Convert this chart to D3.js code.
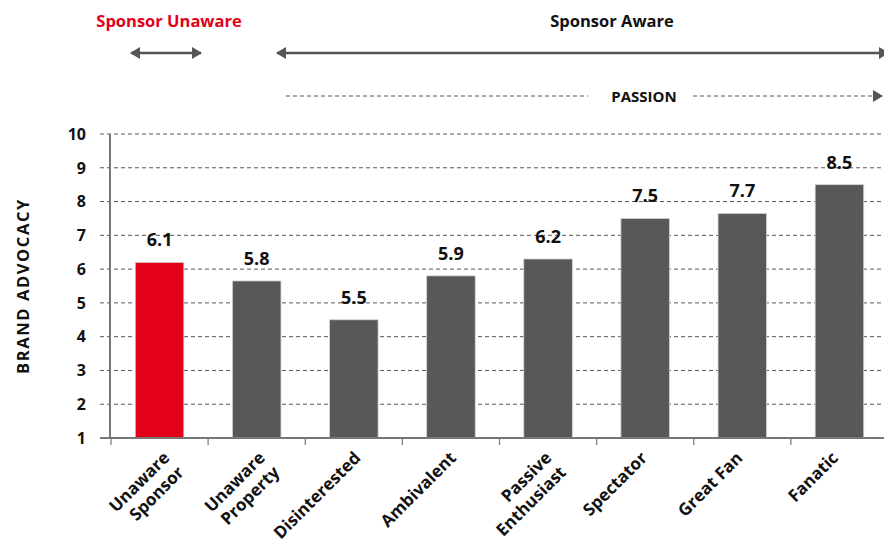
<!DOCTYPE html>
<html>
<head>
<meta charset="utf-8">
<script src="https://cdn.jsdelivr.net/npm/d3@7"></script>
<style>
  body { margin: 0; background: #fff; }
  svg { display: block; font-family: "Open Sans", "DejaVu Sans", sans-serif; font-weight: bold; }
</style>
</head>
<body>
<div id="chart"></div>
<script>
// categories, bar heights (as drawn) and the printed value labels
var categories = [["Unaware", "Sponsor"], ["Unaware", "Property"], ["Disinterested"], ["Ambivalent"],
                  ["Passive", "Enthusiast"], ["Spectator"], ["Great Fan"], ["Fanatic"]];
var barValues = [6.2, 5.65, 4.5, 5.8, 6.3, 7.5, 7.65, 8.5];
var valueLabels = ["6.1", "5.8", "5.5", "5.9", "6.2", "7.5", "7.7", "8.5"];
var yTicks = [1, 2, 3, 4, 5, 6, 7, 8, 9, 10];

var width = 884, height = 544;
var red = "#e2001a", grey = "#58585a", axisGrey = "#777";

var svg = d3.select("#chart").append("svg")
    .attr("width", width)
    .attr("height", height);

var x = d3.scaleBand()
    .domain(d3.range(categories.length))
    .range([111, 888])
    .paddingInner(0.5)
    .paddingOuter(0.25);

var y = d3.scaleLinear()
    .domain([1, 10])
    .range([438, 134]);

// gridlines
svg.append("g").selectAll("line")
    .data(yTicks.slice(1))
    .enter().append("line")
    .attr("x1", 100).attr("x2", width)
    .attr("y1", function(d) { return y(d); })
    .attr("y2", function(d) { return y(d); })
    .attr("stroke", "#555")
    .attr("stroke-width", 1)
    .attr("stroke-dasharray", "4,3");

// y tick labels
svg.append("g").selectAll("text")
    .data(yTicks)
    .enter().append("text")
    .attr("x", 86)
    .attr("y", function(d) { return y(d); })
    .attr("dy", "0.36em")
    .attr("text-anchor", "end")
    .attr("font-size", 16)
    .attr("fill", "#111")
    .text(function(d) { return d; });

// bars
svg.append("g").selectAll("rect")
    .data(barValues)
    .enter().append("rect")
    .attr("x", function(d, i) { return x(i); })
    .attr("width", x.bandwidth())
    .attr("y", function(d) { return y(d); })
    .attr("height", function(d) { return y(1) - y(d); })
    .attr("fill", function(d, i) { return i === 0 ? red : grey; })
    .attr("stroke", "#d4d4d4")
    .attr("stroke-width", 0.8);

// value labels
svg.append("g").selectAll("text")
    .data(barValues)
    .enter().append("text")
    .attr("x", function(d, i) { return x(i) + x.bandwidth() / 2; })
    .attr("y", function(d) { return y(d) - 16; })
    .attr("text-anchor", "middle")
    .attr("font-size", 18)
    .attr("fill", "#111")
    .text(function(d, i) { return valueLabels[i]; });

// axes lines
svg.append("line")
    .attr("x1", 110).attr("x2", 110)
    .attr("y1", y(10)).attr("y2", y(1))
    .attr("stroke", axisGrey).attr("stroke-width", 2);
svg.append("line")
    .attr("x1", 100).attr("x2", width)
    .attr("y1", y(1)).attr("y2", y(1))
    .attr("stroke", axisGrey).attr("stroke-width", 2);

// x ticks at band boundaries
var step = x.step();
svg.append("g").selectAll("line")
    .data(d3.range(categories.length))
    .enter().append("line")
    .attr("x1", function(d) { return x(d) - step * 0.25; })
    .attr("x2", function(d) { return x(d) - step * 0.25; })
    .attr("y1", y(1)).attr("y2", y(1) + 7)
    .attr("stroke", axisGrey).attr("stroke-width", 1.2);

// x category labels, rotated
var xl = svg.append("g").selectAll("text")
    .data(categories)
    .enter().append("text")
    .attr("transform", function(d, i) {
        return "translate(" + (x(i) + x.bandwidth() / 2 + 11 - 1.6 * i) + "," + 459 + ") rotate(-45)";
    })
    .attr("text-anchor", "end")
    .attr("font-size", 17)
    .attr("fill", "#111");
xl.selectAll("tspan")
    .data(function(d) { return d; })
    .enter().append("tspan")
    .attr("x", 0)
    .attr("dy", function(d, i) { return i === 0 ? 0 : "1.2em"; })
    .text(function(d) { return d; });

// y axis title
svg.append("text")
    .attr("transform", "translate(29,286) rotate(-90)")
    .attr("text-anchor", "middle")
    .attr("font-size", 16.5)
    .attr("letter-spacing", 1.6)
    .attr("fill", "#111")
    .text("BRAND ADVOCACY");

// header annotations
var defs = svg.append("defs");
defs.append("marker")
    .attr("id", "head")
    .attr("viewBox", "0 0 10 12")
    .attr("refX", 9).attr("refY", 6)
    .attr("markerWidth", 10).attr("markerHeight", 12)
    .attr("markerUnits", "userSpaceOnUse")
    .attr("orient", "auto-start-reverse")
    .append("path")
    .attr("d", "M0,0L10,6L0,12Z")
    .attr("fill", "#555");

svg.append("text")
    .attr("x", 169).attr("y", 27)
    .attr("text-anchor", "middle")
    .attr("font-size", 16.5)
    .attr("fill", red)
    .text("Sponsor Unaware");

svg.append("text")
    .attr("x", 612).attr("y", 27)
    .attr("text-anchor", "middle")
    .attr("font-size", 16.5)
    .attr("fill", "#111")
    .text("Sponsor Aware");

svg.append("line")
    .attr("x1", 131).attr("x2", 201)
    .attr("y1", 53).attr("y2", 53)
    .attr("stroke", "#555").attr("stroke-width", 2.5)
    .attr("marker-start", "url(#head)")
    .attr("marker-end", "url(#head)");

svg.append("line")
    .attr("x1", 277).attr("x2", 888)
    .attr("y1", 53).attr("y2", 53)
    .attr("stroke", "#555").attr("stroke-width", 2.5)
    .attr("marker-start", "url(#head)")
    .attr("marker-end", "url(#head)");

svg.append("line")
    .attr("x1", 286).attr("x2", 588)
    .attr("y1", 96).attr("y2", 96)
    .attr("stroke", "#555").attr("stroke-width", 1)
    .attr("stroke-dasharray", "4,3");

svg.append("line")
    .attr("x1", 693).attr("x2", 882)
    .attr("y1", 96).attr("y2", 96)
    .attr("stroke", "#555").attr("stroke-width", 1)
    .attr("stroke-dasharray", "4,3")
    .attr("marker-end", "url(#head)");

svg.append("text")
    .attr("x", 644).attr("y", 101.5)
    .attr("text-anchor", "middle")
    .attr("font-size", 15)
    .attr("fill", "#111")
    .text("PASSION");
</script>
</body>
</html>
